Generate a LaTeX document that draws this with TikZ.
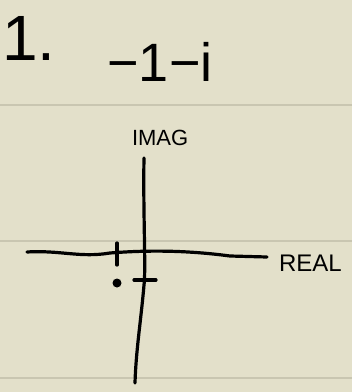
\documentclass[tikz,border=0pt]{standalone}
\usepackage{fontspec}
\setmainfont{Liberation Sans}
\usetikzlibrary{positioning}
\definecolor{paper}{HTML}{E3E0CA}
\definecolor{rule}{HTML}{C9C6B1}
\tikzstyle{ruling}   = [rule, line width=1.5pt]
\tikzstyle{pen}      = [black, line width=3.2pt, line cap=round, line join=round]
\tikzstyle{label}    = [inner sep=0pt, outer sep=0pt, align=center]
\tikzstyle{dotmark}  = [circle, fill=black, inner sep=0pt, minimum size=9pt]

\begin{document}
\begin{tikzpicture}[
        x=1pt,
        y=-1pt
    ]

        % Papír a linkování
        \fill[paper] (0,0) rectangle (352,392);
        \useasboundingbox (0,0) rectangle (352,392);
        \draw[ruling] (0,105) -- (352,105);
        \draw[ruling] (0,241) -- (352,241);
        \draw[ruling] (0,378) -- (352,378);

        % Zadání
        \node[label, font=\fontsize{64}{64}\selectfont] (num) at (29,38) {1.};
        \node[label, font=\fontsize{54}{54}\selectfont] (task) at (160,62) {−1−i};

        % Osy
        \coordinate (ytop) at (144,158);
        \coordinate (ybot) at (135,383);
        \coordinate (xleft) at (27,252);
        \coordinate (xright) at (267,257);
        \coordinate (origin) at (144,252);

        \draw[pen] (ytop) .. controls (143,210) and (146,270) .. (144,285)
            .. controls (141,320) and (136,350) .. (ybot);
        \draw[pen] (xleft) .. controls (60,250) and (80,258) .. (110,253)
            .. controls (160,249) and (200,252) .. (230,256) -- (xright);

        \node[label, font=\fontsize{22}{22}\selectfont, above right=12pt and -12pt of ytop] (imag) {IMAG};
        \node[label, font=\fontsize{24}{24}\selectfont, right=12pt of xright, yshift=-6pt] (real) {REAL};

        % Značky -1 a -i
        \coordinate (tre) at (117,243);
        \coordinate (tre2) at (117,265);
        \coordinate (tim) at (134,280);
        \coordinate (tim2) at (156,280);
        \draw[pen] (tre) -- (tre2);
        \draw[pen] (tim) -- (tim2);

        % Bod -1-i
        \node[dotmark] (pt) at (117,283) {};

    \end{tikzpicture}
\end{document}
